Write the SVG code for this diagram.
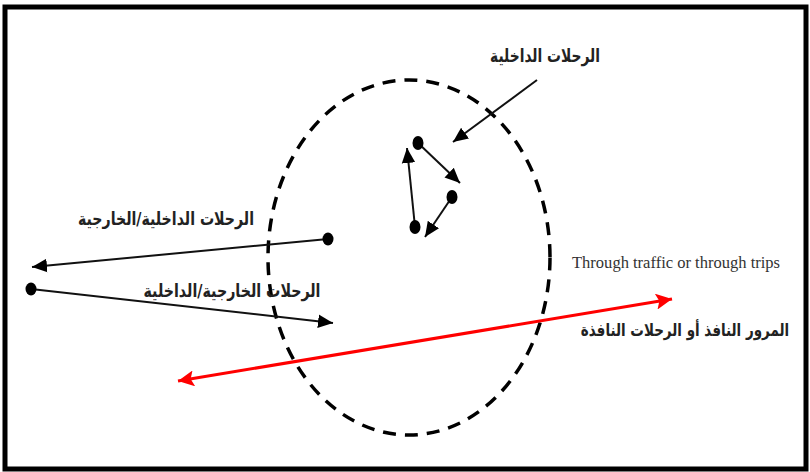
<svg xmlns="http://www.w3.org/2000/svg" width="810" height="472" viewBox="0 0 810 472">
<defs>
<style>
.ar{font-family:"DejaVu Sans",sans-serif;font-size:18px;fill:#222;font-weight:bold;}
.en{font-family:"Liberation Serif",serif;font-size:16px;fill:#333;}
.ln{stroke:#111;stroke-width:2;fill:none;}
.red{stroke:#ff0000;stroke-width:3;fill:none;}
.dot{fill:#000;}
</style>
<marker id="ahr" viewBox="0 0 10 10" refX="10" refY="5" markerWidth="16" markerHeight="16" markerUnits="userSpaceOnUse" orient="auto-start-reverse">
<path d="M0,0 L10,5 L0,10 L2,5 Z" fill="#ff0000"/>
</marker>
<marker id="bh" viewBox="0 0 10 10" refX="10" refY="5" markerWidth="15" markerHeight="15" markerUnits="userSpaceOnUse" orient="auto">
<path d="M0,0.5 L10,5 L0,9.5 Z" fill="#000"/>
</marker>
</defs>
<rect x="0" y="0" width="810" height="472" fill="#fff"/>
<rect x="5" y="7" width="801" height="462" fill="none" stroke="#000" stroke-width="5"/>
<g id="zone">
<ellipse cx="409" cy="257.5" rx="141" ry="177.5" fill="none" stroke="#000" stroke-width="3.5" stroke-dasharray="13,9"/>
</g>
<g id="connectors">
<line class="ln" x1="537" y1="80" x2="453" y2="142" marker-end="url(#bh)"/>
<line class="ln" x1="418" y1="143" x2="460" y2="183" marker-end="url(#bh)"/>
<line class="ln" x1="452" y1="197" x2="425" y2="237" marker-end="url(#bh)"/>
<line class="ln" x1="415" y1="227" x2="407" y2="148" marker-end="url(#bh)"/>
<line class="ln" x1="328" y1="239" x2="32" y2="267" marker-end="url(#bh)"/>
<line class="ln" x1="31" y1="289" x2="333" y2="323" marker-end="url(#bh)"/>
<line class="red" x1="178" y1="381" x2="672" y2="299" marker-start="url(#ahr)" marker-end="url(#ahr)"/>
</g>
<g id="node-a"><ellipse class="dot" cx="418" cy="143" rx="5.5" ry="7"/></g>
<g id="node-b"><ellipse class="dot" cx="452" cy="197" rx="5.5" ry="7"/></g>
<g id="node-c"><ellipse class="dot" cx="415" cy="227" rx="5.5" ry="7"/></g>
<g id="node-d"><ellipse class="dot" cx="328" cy="239" rx="5.5" ry="6.5"/></g>
<g id="node-e"><ellipse class="dot" cx="31" cy="289" rx="5.5" ry="6.5"/></g>
<g id="labels">
<text class="ar" x="545" y="62" text-anchor="middle" textLength="110" lengthAdjust="spacingAndGlyphs">الرحلات الداخلية</text>
<text class="ar" x="166" y="225" text-anchor="middle" textLength="176" lengthAdjust="spacingAndGlyphs">الرحلات الداخلية/الخارجية</text>
<text class="ar" x="232" y="297" text-anchor="middle" textLength="177" lengthAdjust="spacingAndGlyphs">الرحلات الخارجية/الداخلية</text>
<text class="en" x="572" y="268" textLength="208" lengthAdjust="spacingAndGlyphs">Through traffic or through trips</text>
<text class="ar" x="0" y="0" text-anchor="middle" transform="translate(685,336) scale(1,1.3)" style="font-size:13.5px">المرور النافذ أو الرحلات النافذة</text>
</g>
</svg>
